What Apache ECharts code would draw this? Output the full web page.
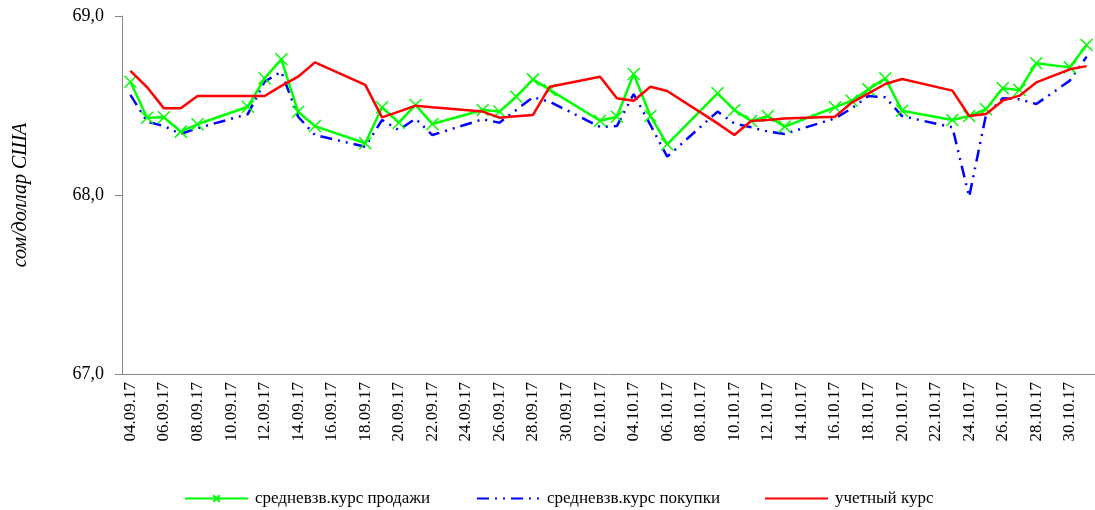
<!DOCTYPE html>
<html>
<head>
<meta charset="utf-8">
<script src="https://cdn.jsdelivr.net/npm/echarts@6/dist/echarts.min.js"></script>
<style>
  html, body { margin: 0; padding: 0; background: #fff; }
  #main { width: 1095px; height: 510px; }
</style>
</head>
<body>
<div id="main"></div>
<script>
// все календарные дни на оси
var days = [
    '04.09.17', '05.09.17', '06.09.17', '07.09.17', '08.09.17', '09.09.17', '10.09.17',
    '11.09.17', '12.09.17', '13.09.17', '14.09.17', '15.09.17', '16.09.17', '17.09.17',
    '18.09.17', '19.09.17', '20.09.17', '21.09.17', '22.09.17', '23.09.17', '24.09.17',
    '25.09.17', '26.09.17', '27.09.17', '28.09.17', '29.09.17', '30.09.17', '01.10.17',
    '02.10.17', '03.10.17', '04.10.17', '05.10.17', '06.10.17', '07.10.17', '08.10.17',
    '09.10.17', '10.10.17', '11.10.17', '12.10.17', '13.10.17', '14.10.17', '15.10.17',
    '16.10.17', '17.10.17', '18.10.17', '19.10.17', '20.10.17', '21.10.17', '22.10.17',
    '23.10.17', '24.10.17', '25.10.17', '26.10.17', '27.10.17', '28.10.17', '29.10.17',
    '30.10.17', '31.10.17'
];

// торговые дни (есть данные)
var tradeDays = [
    '04.09.17', '05.09.17', '06.09.17', '07.09.17', '08.09.17',
    '11.09.17', '12.09.17', '13.09.17', '14.09.17', '15.09.17',
    '18.09.17', '19.09.17', '20.09.17', '21.09.17', '22.09.17',
    '25.09.17', '26.09.17', '27.09.17', '28.09.17', '29.09.17',
    '02.10.17', '03.10.17', '04.10.17', '05.10.17', '06.10.17',
    '09.10.17', '10.10.17', '11.10.17', '12.10.17', '13.10.17',
    '16.10.17', '17.10.17', '18.10.17', '19.10.17', '20.10.17',
    '23.10.17', '24.10.17', '25.10.17', '26.10.17', '27.10.17', '28.10.17',
    '30.10.17', '31.10.17'
];

var saleRate = [
    68.633, 68.432, 68.434, 68.354, 68.395,
    68.493, 68.652, 68.758, 68.465, 68.385,
    68.289, 68.490, 68.404, 68.503, 68.397,
    68.475, 68.466, 68.549, 68.646, 68.587,
    68.415, 68.437, 68.676, 68.441, 68.283,
    68.568, 68.475, 68.413, 68.441, 68.382,
    68.490, 68.527, 68.590, 68.652, 68.471,
    68.419, 68.441, 68.479, 68.596, 68.587, 68.736,
    68.713, 68.838
];

var buyRate = [
    68.559, 68.410, 68.385, 68.341, 68.373,
    68.452, 68.633, 68.689, 68.437, 68.335,
    68.270, 68.419, 68.363, 68.426, 68.335,
    68.423, 68.404, 68.475, 68.546, 68.521,
    68.380, 68.385, 68.564, 68.391, 68.214,
    68.466, 68.400, 68.378, 68.354, 68.341,
    68.428, 68.484, 68.553, 68.546, 68.441,
    68.378, 67.990, 68.447, 68.540, 68.535, 68.508,
    68.639, 68.773
];

var officialRate = [
    68.693, 68.602, 68.484, 68.484, 68.553,
    68.553, 68.553, 68.610, 68.661, 68.741,
    68.615, 68.434, 68.466, 68.499, 68.490,
    68.466, 68.432, 68.440, 68.447, 68.605,
    68.661, 68.540, 68.527, 68.605, 68.581,
    68.400, 68.335, 68.413, 68.419, 68.428,
    68.437, 68.516, 68.568, 68.620, 68.648,
    68.583, 68.441, 68.453, 68.527, 68.555, 68.629,
    68.702, 68.720
];

var seriesNames = ['средневзв.курс продажи', 'средневзв.курс покупки', 'учетный курс'];

var fontFamily = "'Liberation Serif', 'Times New Roman', serif";

function pairs(values) {
    return tradeDays.map(function (d, k) { return [d, values[k]]; });
}

// отдельная легенда для каждой серии, чтобы расставить их как в оригинале
var hidden = { color: 'rgba(0,0,0,0)', borderColor: 'rgba(0,0,0,0)', borderWidth: 0 };
function legendAt(left, name, noSymbol) {
    var item = { name: name };
    if (noSymbol) item.itemStyle = hidden;
    return {
        left: left,
        top: 490,
        padding: 0,
        itemWidth: 63,
        itemHeight: 8,
        itemGap: 7,
        textStyle: { fontFamily: fontFamily, fontSize: 17, color: '#000', padding: [0, 0, 0, 2] },
        data: [item]
    };
}

var myChart = echarts.init(document.getElementById('main'));

var option = {
    animation: false,
    backgroundColor: '#ffffff',
    grid: {
        left: 122,
        right: 0,
        top: 16,
        bottom: 136
    },
    legend: [
        legendAt(184, seriesNames[0], false),
        legendAt(476, seriesNames[1], true),
        legendAt(764, seriesNames[2], true)
    ],
    xAxis: {
        type: 'category',
        data: days,
        boundaryGap: true,
        axisLine: { lineStyle: { color: '#868686', width: 1 } },
        axisTick: { interval: 1, length: 5, lineStyle: { color: '#868686' } },
        axisLabel: {
            interval: 1,
            rotate: 90,
            margin: 8,
            fontFamily: fontFamily,
            fontSize: 17,
            color: '#000'
        },
        splitLine: { show: false }
    },
    yAxis: {
        type: 'value',
        min: 67,
        max: 69,
        interval: 1,
        name: 'сом/доллар США',
        nameLocation: 'middle',
        nameGap: 91,
        nameTextStyle: { fontFamily: fontFamily, fontSize: 20, fontStyle: 'italic', color: '#000' },
        axisLine: { show: true, lineStyle: { color: '#868686', width: 1 } },
        axisTick: { show: true, length: 7, lineStyle: { color: '#868686' } },
        axisLabel: {
            margin: 18,
            fontFamily: fontFamily,
            fontSize: 18,
            color: '#000',
            formatter: function (v) { return v.toFixed(1).replace('.', ','); }
        },
        splitLine: { show: false }
    },
    series: [
        {
            name: seriesNames[0],
            type: 'line',
            data: pairs(saleRate),
            connectNulls: true,
            showAllSymbol: true,
            symbol: 'path://M0,0L10,10M10,0L0,10',
            symbolSize: 12,
            itemStyle: { color: '#00ff00', borderColor: '#00ff00', borderWidth: 1.5 },
            lineStyle: { color: '#00ff00', width: 2.5 },
            emphasis: { disabled: true },
            z: 3
        },
        {
            name: seriesNames[1],
            type: 'line',
            data: pairs(buyRate),
            connectNulls: true,
            symbol: 'none',
            itemStyle: { color: '#0000ff' },
            lineStyle: { color: '#0000ff', width: 2.5, type: [12, 6, 2, 6, 2, 6] },
            emphasis: { disabled: true },
            z: 2
        },
        {
            name: seriesNames[2],
            type: 'line',
            data: pairs(officialRate),
            connectNulls: true,
            symbol: 'none',
            itemStyle: { color: '#ff0000' },
            lineStyle: { color: '#ff0000', width: 2.5 },
            emphasis: { disabled: true },
            z: 4
        }
    ]
};

myChart.setOption(option);
</script>
</body>
</html>
